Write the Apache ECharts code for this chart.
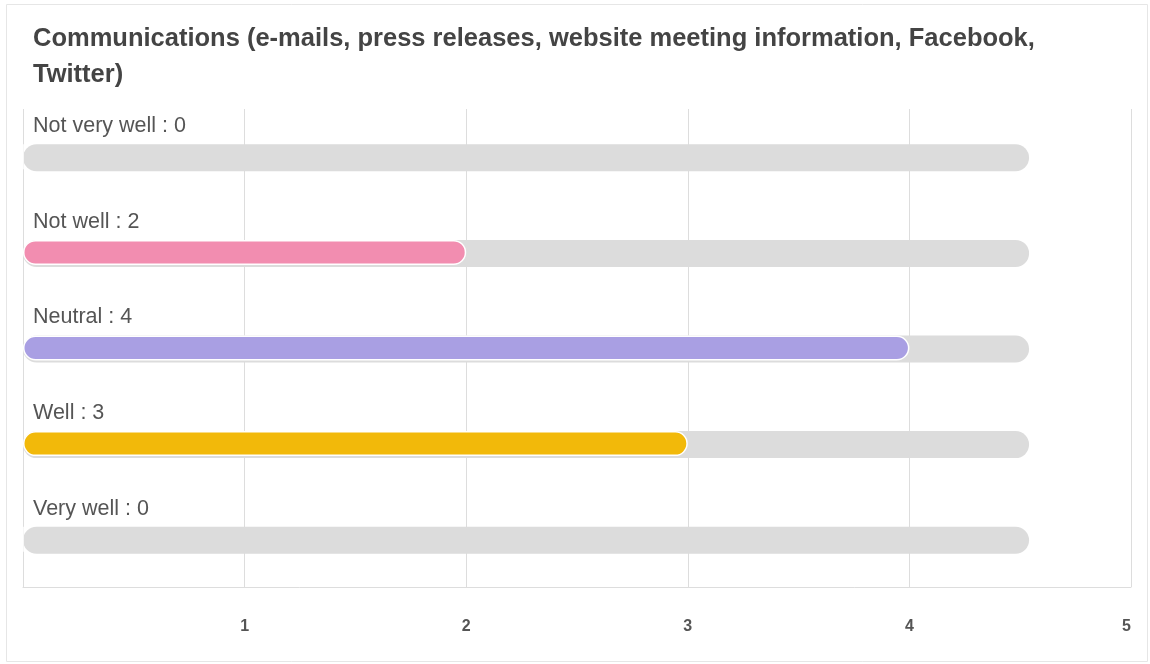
<!DOCTYPE html>
<html>
<head>
<meta charset="utf-8">
<style>
html,body{margin:0;padding:0;background:#fff;}
#c{width:1150px;height:664px;}
</style>
<script src="https://cdn.jsdelivr.net/npm/echarts@6/dist/echarts.min.js"></script>
</head>
<body>
<div id="c"></div>
<script>
var titleText = 'Communications (e-mails, press releases, website meeting information, Facebook,\nTwitter)';
var categories = ['Not very well', 'Not well', 'Neutral', 'Well', 'Very well'];
var values = [0, 2, 4, 3, 0];
var trackValue = [4.54, 4.54, 4.54, 4.54, 4.54];
var barColors = ['#f28db0', '#f28db0', '#a99fe3', '#f2b90a', '#f2b90a'];
var xTicks = [0, 1, 2, 3, 4, 5];

var chart = echarts.init(document.getElementById('c'), null, {renderer: 'canvas'});
chart.setOption({
  animation: false,
  backgroundColor: '#fff',
  graphic: [{
    type: 'rect',
    shape: {x: 6.5, y: 4.5, width: 1141, height: 657},
    style: {fill: 'none', stroke: '#e6e6e6', lineWidth: 1},
    silent: true,
    z: -1
  }],
  title: {
    text: titleText,
    left: 28,
    top: 16,
    textStyle: {
      fontFamily: 'Liberation Sans, Arial, sans-serif',
      fontSize: 25.5,
      fontWeight: 'bold',
      color: '#444',
      lineHeight: 36
    }
  },
  grid: {left: 23, right: 19, top: 109, bottom: 77, containLabel: false},
  xAxis: {
    type: 'value',
    min: xTicks[0],
    max: xTicks[xTicks.length - 1],
    interval: 1,
    axisLine: {show: true, lineStyle: {color: '#dddddd', width: 1}},
    axisTick: {show: false},
    splitLine: {show: true, lineStyle: {color: '#dddddd', width: 1}},
    axisLabel: {
      showMinLabel: false,
      alignMaxLabel: 'right',
      margin: 32,
      fontFamily: 'Liberation Sans, Arial, sans-serif',
      fontSize: 16,
      fontWeight: 'bold',
      color: '#555'
    }
  },
  yAxis: {
    type: 'category',
    data: categories,
    inverse: true,
    axisLine: {show: false},
    axisTick: {show: false},
    axisLabel: {show: false},
    splitLine: {show: false}
  },
  series: [{
    type: 'bar',
    data: trackValue,
    barWidth: 27,
    itemStyle: {color: '#dcdcdc', borderRadius: 13.5},
    silent: true,
    z: 1,
    label: {
      show: true,
      position: [10, -29],
      align: 'left',
      verticalAlign: 'top',
      fontFamily: 'Liberation Sans, Arial, sans-serif',
      fontSize: 21.5,
      color: '#555',
      formatter: function (p) { return categories[p.dataIndex] + ' : ' + values[p.dataIndex]; }
    }
  }, {
    type: 'bar',
    data: values.map(function (v, i) { return {value: v, itemStyle: {color: barColors[i]}}; }),
    barWidth: 25,
    barGap: '-100%',
    itemStyle: {borderRadius: 12.5, borderColor: '#fff', borderWidth: 1.5},
    z: 2
  }]
});
</script>
</body>
</html>
